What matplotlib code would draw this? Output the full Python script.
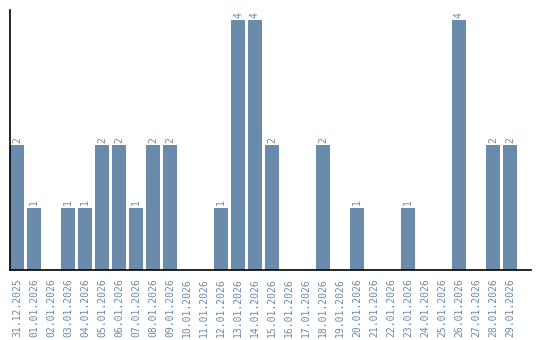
import matplotlib
matplotlib.use("Agg")
import matplotlib.pyplot as plt

dates = ["31.12.2025", "01.01.2026", "02.01.2026", "03.01.2026", "04.01.2026",
         "05.01.2026", "06.01.2026", "07.01.2026", "08.01.2026", "09.01.2026",
         "10.01.2026", "11.01.2026", "12.01.2026", "13.01.2026", "14.01.2026",
         "15.01.2026", "16.01.2026", "17.01.2026", "18.01.2026", "19.01.2026",
         "20.01.2026", "21.01.2026", "22.01.2026", "23.01.2026", "24.01.2026",
         "25.01.2026", "26.01.2026", "27.01.2026", "28.01.2026", "29.01.2026"]
counts = [2, 1, 0, 1, 1, 2, 2, 1, 2, 2, 0, 0, 1, 4, 4, 2, 0, 0, 2, 0,
          1, 0, 0, 1, 0, 0, 4, 0, 2, 2]

W, H = 540, 340
fig = plt.figure(figsize=(W / 100, H / 100), dpi=100)
ax = fig.add_axes([10 / W, (H - 270) / H, (531 - 10) / W, (270 - 10) / H])

color = "#6a8bab"
x = list(range(len(dates)))
bars = ax.bar(x, counts, width=14 / 17, color=color, linewidth=0)
ax.set_xlim(-7 / 17, -7 / 17 + 521 / 17)
ax.set_ylim(0, 260 / 62.5)

for xi, v in zip(x, counts):
    if v > 0:
        ax.annotate(str(v), (xi, v), xytext=(0, 1.5), textcoords="offset points",
                    rotation=90, ha="center", va="bottom", color=color,
                    fontsize=7, family="DejaVu Sans Mono")

ax.set_xticks(x)
ax.set_xticklabels(dates, rotation=90, color=color, fontsize=7,
                   family="DejaVu Sans Mono")
ax.tick_params(axis="x", length=0, pad=6)
ax.set_yticks([])
for s in ["top", "right"]:
    ax.spines[s].set_visible(False)
for s in ["left", "bottom"]:
    ax.spines[s].set_color("black")
    ax.spines[s].set_linewidth(1.2)

fig.savefig("out.png", dpi=100)
